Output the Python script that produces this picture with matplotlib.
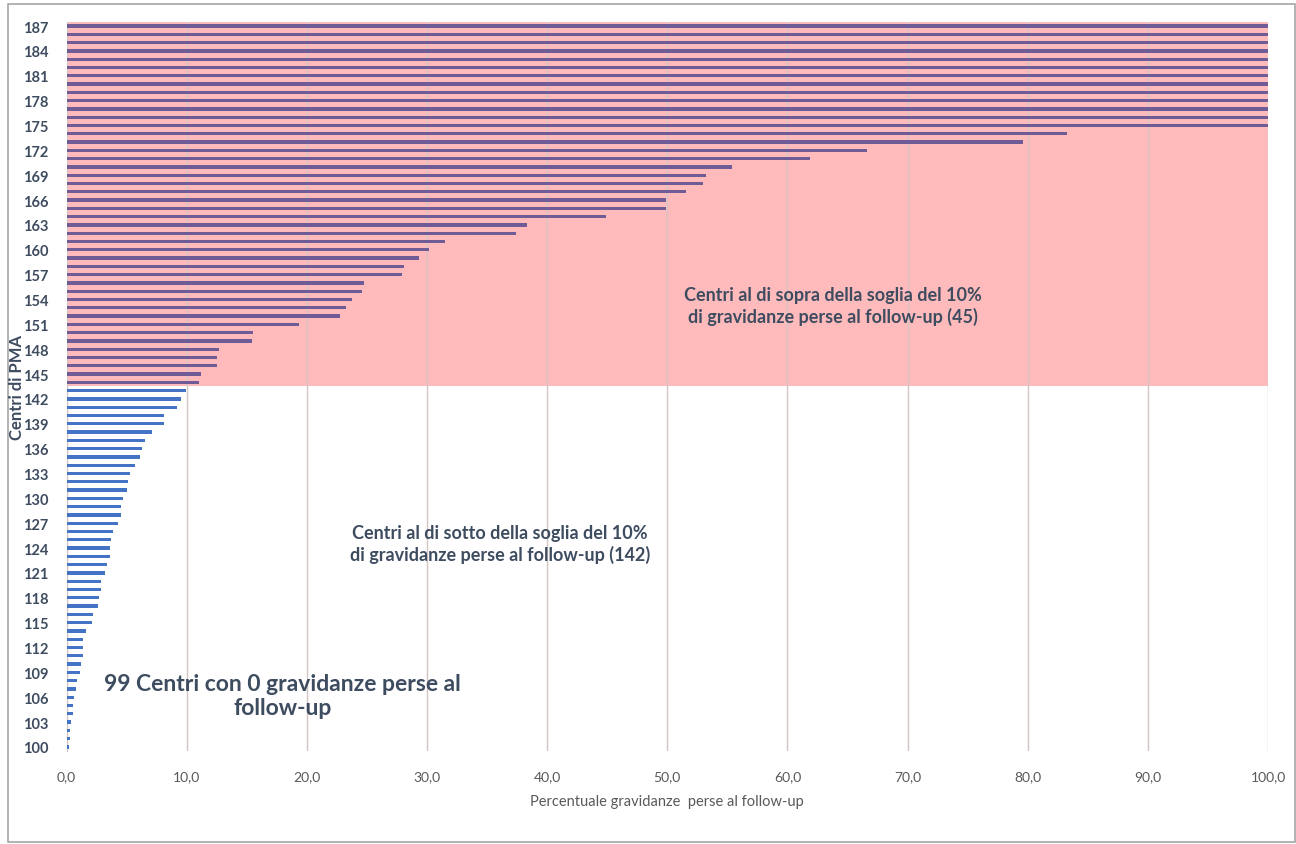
import numpy as np
import matplotlib
matplotlib.use("Agg")
import matplotlib.pyplot as plt
from matplotlib.patches import Rectangle
from matplotlib.ticker import FuncFormatter

plt.rcParams['font.family'] = ['Lato', 'DejaVu Sans']

# centri 100..187 (i primi 99 hanno 0 gravidanze perse)
centri = np.arange(100, 188)

perc_sotto = [0.2, 0.25, 0.25, 0.35, 0.5, 0.5, 0.6, 0.8, 0.9, 1.1,
              1.2, 1.35, 1.35, 1.35, 1.6, 2.1, 2.2, 2.65, 2.7, 2.9,
              2.9, 3.2, 3.4, 3.6, 3.6, 3.7, 3.9, 4.3, 4.5, 4.5,
              4.7, 5.0, 5.1, 5.3, 5.7, 6.1, 6.3, 6.5, 7.1, 8.1,
              8.1, 9.2, 9.5, 9.95]  # centri 100-143
perc_sopra = [11.05, 11.2, 12.5, 12.5, 12.7, 15.4, 15.5, 19.35, 22.8, 23.3,
              23.8, 24.6, 24.8, 27.9, 28.1, 29.3, 30.2, 31.5, 37.4, 38.35,
              44.9, 49.9, 49.9, 51.6, 53.0, 53.2, 55.4, 61.9, 66.6, 79.6,
              83.3, 100, 100, 100, 100, 100, 100, 100, 100, 100,
              100, 100, 100, 100]  # centri 144-187

col_sotto = '#4472C4'
col_sopra = '#6F5B96'
col_pink = '#FFBBBC'
col_text = '#3E4C60'

fig = plt.figure(figsize=(12.96, 8.45), dpi=100)
ax = fig.add_axes([66.5/1296, 1-752.1/845, (1268-66.5)/1296, (752.1-22.9)/845])

ax.add_patch(Rectangle((0, 143.6), 100, 44, facecolor=col_pink, edgecolor='none', zorder=0))

n_sotto = len(perc_sotto)
ax.barh(centri[:n_sotto], perc_sotto, height=0.4, color=col_sotto, zorder=3)
ax.barh(centri[n_sotto:], perc_sopra, height=0.4, color=col_sopra, zorder=3)

ax.set_xlim(0, 100)
ax.set_ylim(99.5, 187.5)
ax.set_xticks(np.arange(0, 101, 10))
ax.set_yticks(np.arange(100, 188, 3))
ax.xaxis.set_major_formatter(FuncFormatter(lambda v, p: f"{v:.1f}".replace('.', ',')))
ax.grid(axis='x', color='#D4C4C4', linewidth=1, zorder=1)
ax.set_axisbelow(False)
for s in ['top', 'right', 'bottom']:
    ax.spines[s].set_visible(False)
ax.spines['left'].set_color('#BFBFBF')
ax.tick_params(axis='both', length=0, colors='#595959')
ax.tick_params(axis='x', labelsize=10, pad=14)
ax.tick_params(axis='y', labelsize=10.5, pad=13)
for lab in ax.get_yticklabels():
    lab.set_fontweight('bold')
    lab.set_color(col_text)

ax.set_xlabel('Percentuale gravidanze  perse al follow-up', fontsize=10.5, color='#595959', labelpad=8)
fig.text(17/1296, 1-388/845, 'Centri di PMA', rotation=90, ha='center', va='center',
         fontsize=12, fontweight='bold', color=col_text)

ax.text(63.8, 153.3, 'Centri al di sopra della soglia del 10%\ndi gravidanze perse al follow-up (45)',
        ha='center', va='center', fontsize=13, fontweight='bold', color=col_text, linespacing=1.25, zorder=4)
ax.text(36.1, 124.6, 'Centri al di sotto della soglia del 10%\ndi gravidanze perse al follow-up (142)',
        ha='center', va='center', fontsize=13, fontweight='bold', color=col_text, linespacing=1.25, zorder=4)
ax.text(18.0, 106.2, '99 Centri con 0 gravidanze perse al\nfollow-up',
        ha='center', va='center', fontsize=16.5, fontweight='bold', color=col_text, linespacing=1.2, zorder=4)

fig.patches.append(Rectangle((8/1296, 2/845), (1295-8)/1296, (840-2)/845, transform=fig.transFigure,
                             facecolor='none', edgecolor='#A6A6A6', linewidth=1.2))

fig.savefig('out.png', dpi=100)
